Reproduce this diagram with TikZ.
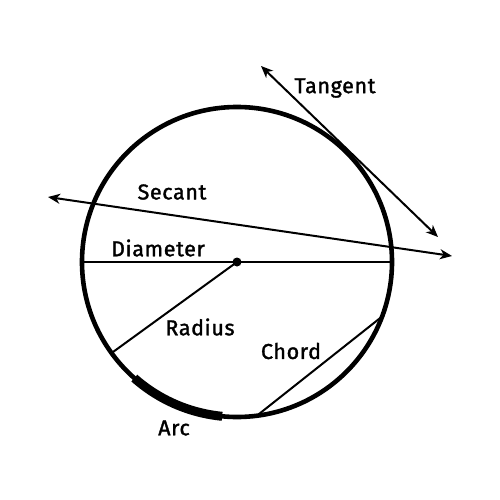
\documentclass[tikz,border=0pt]{standalone}
\usepackage{fontspec}
\newfontfamily\lblfont{Fira Sans}[LetterSpace=3,FakeBold=1.5]
\usetikzlibrary{arrows.meta,calc}
\begin{document}
\begin{tikzpicture}[x=1pt,y=-1pt,
  lbl/.style={font=\lblfont\fontsize{21.5}{24}\selectfont, inner sep=0pt},
  thinln/.style={line width=2pt},
  arr/.style={thinln,{Stealth[length=12pt,width=10pt,inset=3.5pt]}-{Stealth[length=12pt,width=10pt,inset=3.5pt]}},
  circ/.style={line width=4.6pt},
  arcln/.style={line width=9pt}]
\useasboundingbox (0,0) rectangle (500,500);
\coordinate (O) at (237,262);
\draw[circ] (O) circle[radius=155];
% arc
\draw[arcln] ($(O)+(131.5:155)$) arc[start angle=131.5, end angle=95.5, radius=155];
% diameter
\coordinate (dL) at (82,262);
\coordinate (dR) at (392,262);
\draw[thinln] (dL) -- (dR);
\fill (O) circle[radius=4.5];
% radius
\coordinate (rE) at (113,352);
\draw[thinln] (O) -- (rE);
% chord
\coordinate (c1) at (384,315);
\coordinate (c2) at (259,414);
\draw[thinln] (c1) -- (c2);
% secant
\coordinate (s1) at (48,197);
\coordinate (s2) at (452,256);
\draw[arr] (s1) -- (s2);
% tangent
\coordinate (t1) at (261,66);
\coordinate (t2) at (438,237);
\draw[arr] (t1) -- (t2);
% labels
\node[lbl] (lt) at (335,88) {Tangent};
\node[lbl] (ls) at (172,192) {Secant};
\node[lbl] (ld) at (158,248) {Diameter};
\node[lbl] (lr) at (200,327) {Radius};
\node[lbl] (lc) at (291,351) {Chord};
\node[lbl] (la) at (174,428) {Arc};
\end{tikzpicture}
\end{document}
